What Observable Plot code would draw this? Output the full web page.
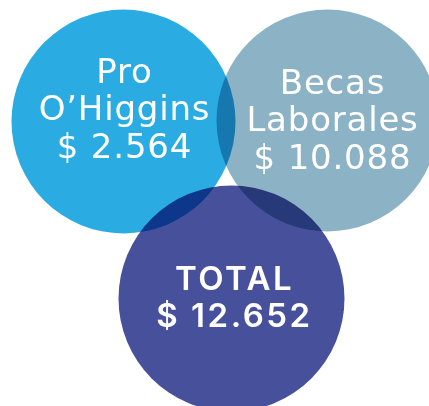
<!DOCTYPE html>
<html>
<head>
<meta charset="utf-8">
<script src="https://cdn.jsdelivr.net/npm/d3@7"></script>
<script src="https://cdn.jsdelivr.net/npm/@observablehq/plot@0.6"></script>
<style>
  html, body { margin: 0; padding: 0; background: #ffffff; }
  #chart { width: 429px; height: 406px; overflow: hidden; }
</style>
</head>
<body>
<div id="chart"></div>
<script>
// Categories and values
const names = ["Pro\nO’Higgins", "Becas\nLaborales", "TOTAL"];
const amounts = ["$ 2.564", "$ 10.088", "$ 12.652"];
const colors = ["#2aace3", "#8cb2c5", "#47519b"];

// Venn layout (chart units)
const circleX = [123, 327, 231];
const circleY = [121, 120, 298];
const circleR = [112, 111, 113];
const labelX = [124, 332, 234];
const labelY = [108, 119, 296];

const circles = names.map((n, i) => ({name: n, x: circleX[i], y: circleY[i], r: circleR[i], color: colors[i]}));
const labels = names.map((n, i) => ({text: n + "\n" + amounts[i], x: labelX[i], y: labelY[i], bold: i === 2}));

const chart = Plot.plot({
  width: 429,
  height: 406,
  margin: 0,
  x: {domain: [0, 429], range: [0, 429], axis: null},
  y: {domain: [0, 406], range: [0, 406], axis: null},
  r: {type: "identity"},
  color: {type: "identity"},
  style: {background: "transparent", overflow: "hidden"},
  marks: [
    Plot.dot(circles, {x: "x", y: "y", r: "r", fill: "color", stroke: null, mixBlendMode: "multiply"}),
    Plot.text(labels.filter(d => !d.bold), {
      x: "x", y: "y", text: "text", fill: "white",
      fontSize: 34, lineHeight: 1.1, fontFamily: "DejaVu Sans", fontWeight: 400,
      textAnchor: "middle", className: "lbl-light"
    }),
    Plot.text(labels.filter(d => d.bold), {
      x: "x", y: "y", text: "text", fill: "white",
      fontSize: 33, lineHeight: 1.13, fontFamily: "Inter", fontWeight: 600,
      textAnchor: "middle", className: "lbl-bold"
    })
  ]
});

d3.select(chart).selectAll(".lbl-light text").attr("letter-spacing", "0.8px");
d3.select(chart).selectAll(".lbl-bold text").attr("letter-spacing", "2.5px");
document.getElementById("chart").appendChild(chart);
</script>
</body>
</html>
